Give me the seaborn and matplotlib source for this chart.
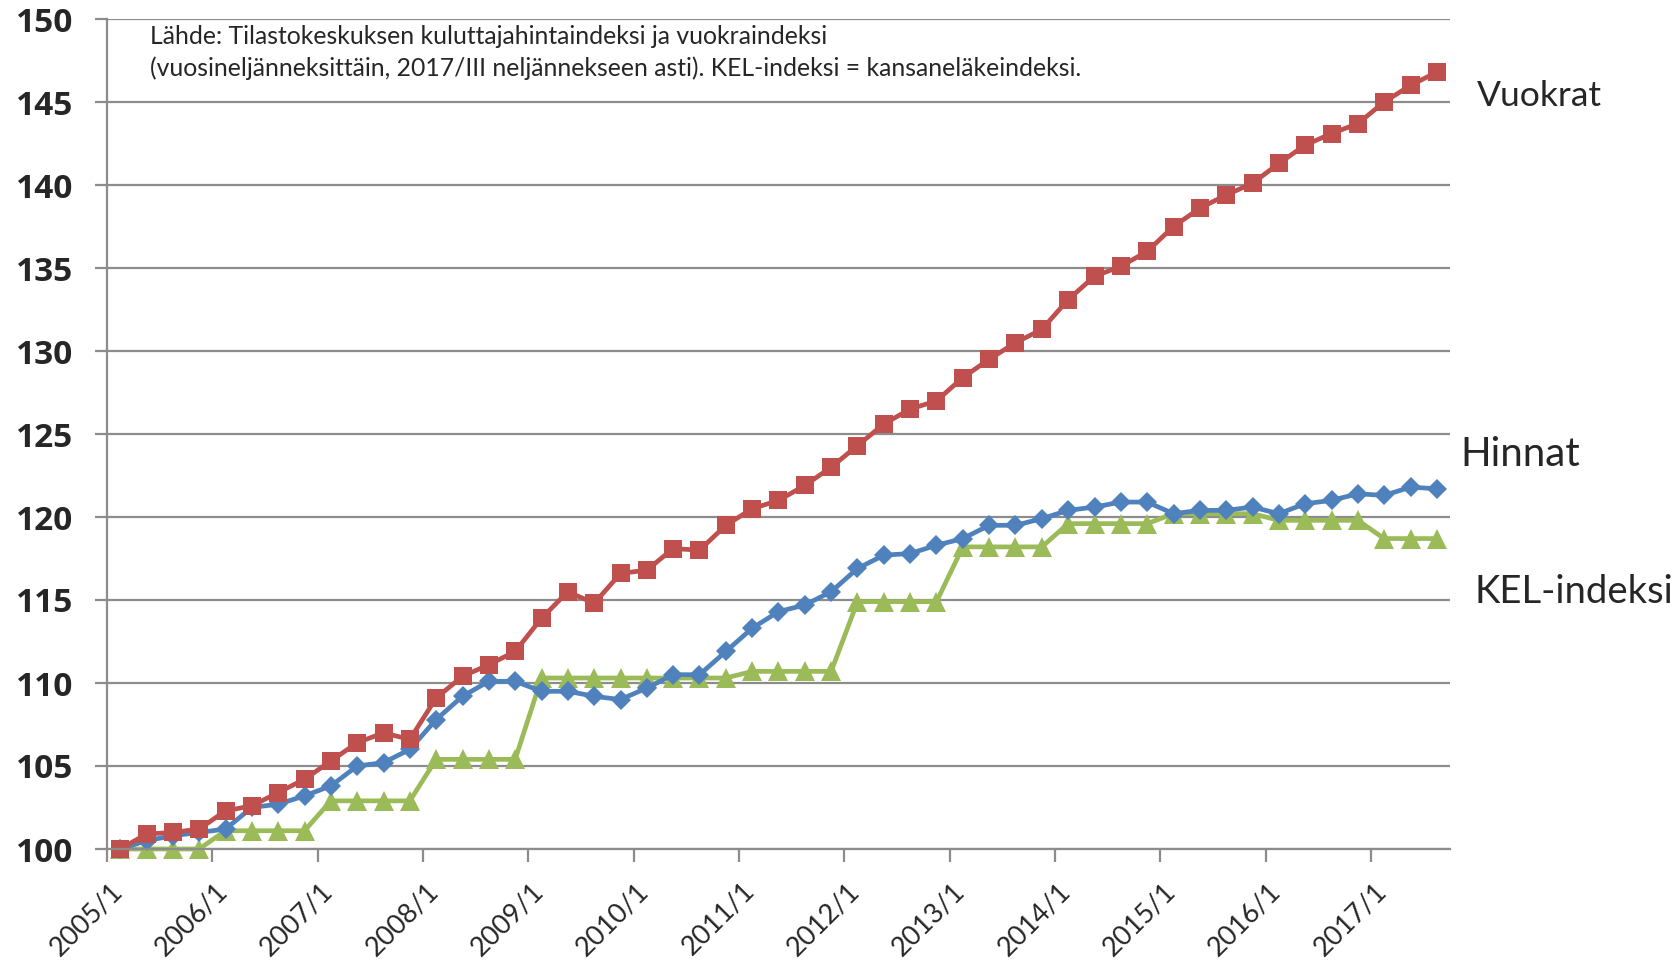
import numpy as np
import matplotlib
matplotlib.use("Agg")
import matplotlib.pyplot as plt
import matplotlib.transforms as mtransforms
import seaborn as sns
import pandas as pd

# quarterly index values, 2005/1 .. 2017/3
quarters = [f"{y}/{q}" for y in range(2005, 2018) for q in (1, 2, 3, 4)][:51]

vuokrat = [100.0, 100.9, 101.0, 101.2,
           102.3, 102.6, 103.4, 104.2,
           105.3, 106.4, 107.0, 106.6,
           109.1, 110.4, 111.1, 111.9,
           113.9, 115.5, 114.8, 116.6,
           116.8, 118.1, 118.0, 119.5,
           120.5, 121.0, 121.9, 123.0,
           124.3, 125.6, 126.5, 127.0,
           128.4, 129.5, 130.5, 131.3,
           133.1, 134.5, 135.1, 136.0,
           137.5, 138.6, 139.4, 140.1,
           141.3, 142.4, 143.1, 143.7,
           145.0, 146.0, 146.8]

hinnat = [100.0, 100.5, 100.8, 101.0,
          101.2, 102.5, 102.7, 103.2,
          103.8, 105.0, 105.2, 106.0,
          107.8, 109.2, 110.1, 110.1,
          109.5, 109.5, 109.2, 109.0,
          109.7, 110.5, 110.5, 111.9,
          113.3, 114.3, 114.7, 115.5,
          116.9, 117.7, 117.8, 118.3,
          118.7, 119.5, 119.5, 119.9,
          120.4, 120.6, 120.9, 120.9,
          120.2, 120.4, 120.4, 120.6,
          120.2, 120.8, 121.0, 121.4,
          121.3, 121.8, 121.7]

kel = [100.0, 100.0, 100.0, 100.0,
       101.1, 101.1, 101.1, 101.1,
       102.9, 102.9, 102.9, 102.9,
       105.4, 105.4, 105.4, 105.4,
       110.3, 110.3, 110.3, 110.3,
       110.3, 110.3, 110.3, 110.3,
       110.7, 110.7, 110.7, 110.7,
       114.9, 114.9, 114.9, 114.9,
       118.2, 118.2, 118.2, 118.2,
       119.6, 119.6, 119.6, 119.6,
       120.2, 120.2, 120.2, 120.2,
       119.8, 119.8, 119.8, 119.8,
       118.7, 118.7, 118.7]

df = pd.DataFrame({"i": np.arange(len(quarters)), "Vuokrat": vuokrat,
                   "Hinnat": hinnat, "KEL": kel})

sns.set_style("white")
plt.rcParams['font.family'] = ['Lato', 'DejaVu Sans']

W, H = 1680, 964
fig = plt.figure(figsize=(W / 100, H / 100), dpi=100)
ax = fig.add_axes([107 / W, 1 - 849 / H, (1450 - 107) / W, (849 - 19) / H])

grid_c = "#8c8c8c"
ax.yaxis.grid(True, color=grid_c, lw=1.6)
ax.set_axisbelow(True)

sns.lineplot(data=df, x="i", y="KEL", color="#9BBB59", marker="^", markersize=14,
             markeredgewidth=0, linewidth=3.4, ax=ax)
sns.lineplot(data=df, x="i", y="Hinnat", color="#4F81BD", marker="D", markersize=10,
             markeredgewidth=0, linewidth=3.4, ax=ax)
sns.lineplot(data=df, x="i", y="Vuokrat", color="#C0504D", marker="s", markersize=12.5,
             markeredgewidth=0, linewidth=3.4, ax=ax)
for ln in ax.lines:
    ln.set_clip_on(False)

ax.set_xlim(-0.5, len(quarters) - 0.5)
ax.set_ylim(100, 150)
ax.set_yticks(range(100, 151, 5))
ax.set_xticks(np.arange(-0.5, len(quarters), 4))
ax.set_xticklabels(quarters[::4], rotation=45, ha="right", fontsize=19.5)
ax.set_xlabel("")
ax.set_ylabel("")

for lab in ax.get_yticklabels():
    lab.set_family(["Open Sans", "DejaVu Sans"])
    lab.set_fontweight("bold")
    lab.set_fontsize(24)

ax.tick_params(axis="y", length=9, width=1.6, color=grid_c, pad=15, left=True)
ax.tick_params(axis="x", length=9, width=1.6, color=grid_c, pad=12, bottom=True)
offset = mtransforms.ScaledTranslation(0.2, 0, fig.dpi_scale_trans)
for lab in ax.get_xticklabels():
    lab.set_transform(lab.get_transform() + offset)

for s in ["top", "right"]:
    ax.spines[s].set_visible(False)
ax.spines["left"].set_color(grid_c)
ax.spines["left"].set_linewidth(1.6)
ax.spines["bottom"].set_color(grid_c)
ax.spines["bottom"].set_linewidth(1.6)

fig.text(150 / W, 1 - 36 / H, "Lähde: Tilastokeskuksen kuluttajahintaindeksi ja vuokraindeksi",
         fontsize=17.8, va="center", ha="left")
fig.text(150 / W, 1 - 68 / H,
         "(vuosineljänneksittäin, 2017/III neljännekseen asti). KEL-indeksi = kansaneläkeindeksi.",
         fontsize=17.8, va="center", ha="left")

fig.text(1477 / W, 1 - 96 / H, "Vuokrat", fontsize=25.5, va="center", ha="left")
fig.text(1460 / W, 1 - 454 / H, "Hinnat", fontsize=29, va="center", ha="left")
fig.text(1474 / W, 1 - 592 / H, "KEL-indeksi", fontsize=27.5, va="center", ha="left")

fig.savefig("out.png", dpi=100)
